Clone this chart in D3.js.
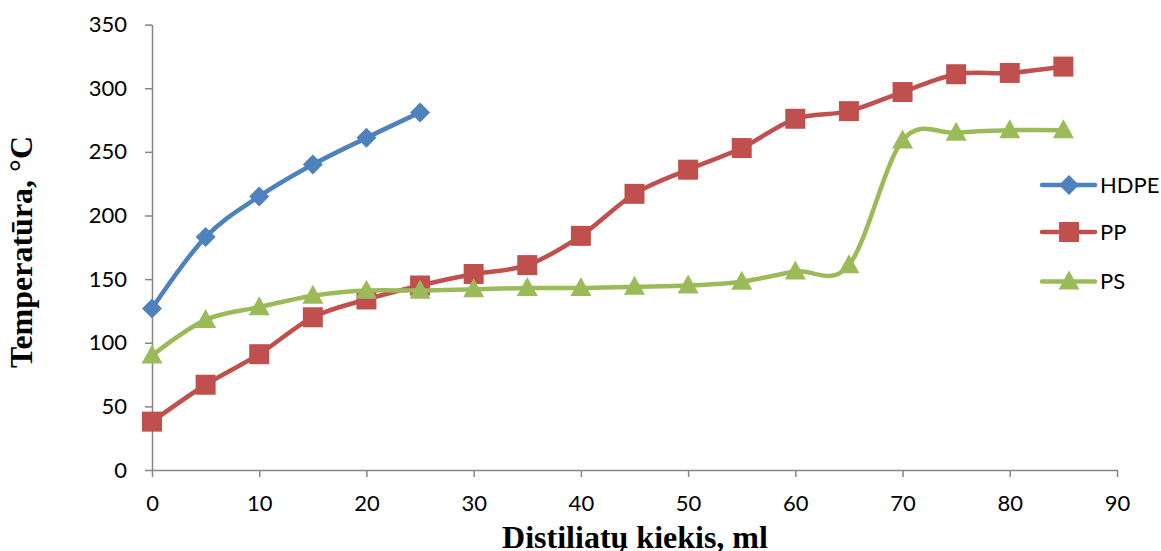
<!DOCTYPE html>
<html><head><meta charset="utf-8">
<script src="https://cdn.jsdelivr.net/npm/d3@7"></script>
<style>body{margin:0;background:#fff}svg{display:block}</style>
</head><body>
<svg id="c" width="1161" height="551"></svg>
<script>
const xTicks = [0,10,20,30,40,50,60,70,80,90];
const yTicks = [0,50,100,150,200,250,300,350];
const seriesNames = ["HDPE","PP","PS"];
const seriesColors = ["#4F81BD","#C0504D","#9BBB59"];
const hdpeX = [0,5,10,15,20,25];
const hdpeY = [127,183,215,240,261,281];
const ppX = [0,5,10,15,20,25,30,35,40,45,50,55,60,65,70,75,80,85];
const ppY = [38,67,91,120,134,145,154,161,184,217,236,253,276,282,297,311,312,317];
const psX = [0,5,10,15,20,25,30,35,40,45,50,55,60,65,70,75,80,85];
const psY = [90,118,128,137,141,141,142,143,143,144,145,148,156,161,259,265,267,267];

const svg = d3.select("#c");
const x = d3.scaleLinear().domain([0,90]).range([152,1117]);
const y = d3.scaleLinear().domain([0,350]).range([470,24.6]);
const axisColor = "#868686";
const tickFont = "Lato, 'Open Sans', sans-serif";

const gx = svg.append("g").attr("transform","translate(0,470)")
  .call(d3.axisBottom(x).tickValues(xTicks).tickSize(7).tickSizeOuter(0).tickPadding(18));
const gy = svg.append("g").attr("transform","translate(152,0)")
  .call(d3.axisLeft(y).tickValues(yTicks).tickSize(7).tickSizeOuter(0).tickPadding(18));
[gx,gy].forEach(g=>{
  g.selectAll("path,line").attr("stroke",axisColor).attr("stroke-width",1.5);
  g.selectAll("text").attr("font-family",tickFont).attr("font-size",22).attr("fill","#000");
});

const serif = "'Liberation Serif','Times New Roman',serif";
svg.append("text").attr("x",635).attr("y",548).attr("text-anchor","middle")
  .attr("font-family",serif).attr("font-weight","bold")
  .attr("font-size",32).text("Distiliatų kiekis, ml");
svg.append("text").attr("transform","translate(32,252) rotate(-90)").attr("text-anchor","middle")
  .attr("font-family",serif).attr("font-weight","bold")
  .attr("font-size",32).text("Temperatūra, °C");

const diamond = {draw(ctx,size){const r=size;ctx.moveTo(0,-r);ctx.lineTo(r,0);ctx.lineTo(0,r);ctx.lineTo(-r,0);ctx.closePath();}};
const square = {draw(ctx,size){const r=size;ctx.rect(-r,-r,2*r,2*r);}};
const triangle = {draw(ctx,size){const w=size*1.05,h=size*0.95;ctx.moveTo(0,-h*1.15);ctx.lineTo(w,h*0.85);ctx.lineTo(-w,h*0.85);ctx.closePath();}};

const data = [
  {name:seriesNames[0], color:seriesColors[0], sym:diamond, size:10, pts:hdpeX.map((v,i)=>[v,hdpeY[i]])},
  {name:seriesNames[1], color:seriesColors[1], sym:square, size:10, pts:ppX.map((v,i)=>[v,ppY[i]])},
  {name:seriesNames[2], color:seriesColors[2], sym:triangle, size:10, pts:psX.map((v,i)=>[v,psY[i]])}
];
const line = d3.line().x(d=>x(d[0])).y(d=>y(d[1])).curve(d3.curveCardinal.tension(0));
data.forEach(s=>{
  const g = svg.append("g");
  g.append("path").attr("d",line(s.pts)).attr("fill","none").attr("stroke",s.color).attr("stroke-width",4.5).attr("stroke-linecap","round");
  g.selectAll("path.m").data(s.pts).join("path").attr("class","m")
    .attr("transform",d=>`translate(${x(d[0])},${y(d[1])})`)
    .attr("d",d3.symbol().type(s.sym).size(s.size)).attr("fill",s.color);
});

// legend
const legY = [185,232,281.5];
data.forEach((s,i)=>{
  const g = svg.append("g").attr("transform",`translate(0,${legY[i]})`);
  g.append("line").attr("x1",1042).attr("x2",1095).attr("stroke",s.color).attr("stroke-width",4.5).attr("stroke-linecap","round");
  g.append("path").attr("transform","translate(1069,0)").attr("d",d3.symbol().type(s.sym).size(s.size)).attr("fill",s.color);
  g.append("text").attr("x",1100).attr("dy","0.35em").attr("font-family",tickFont).attr("font-size",22).text(s.name);
});
</script>
</body></html>
